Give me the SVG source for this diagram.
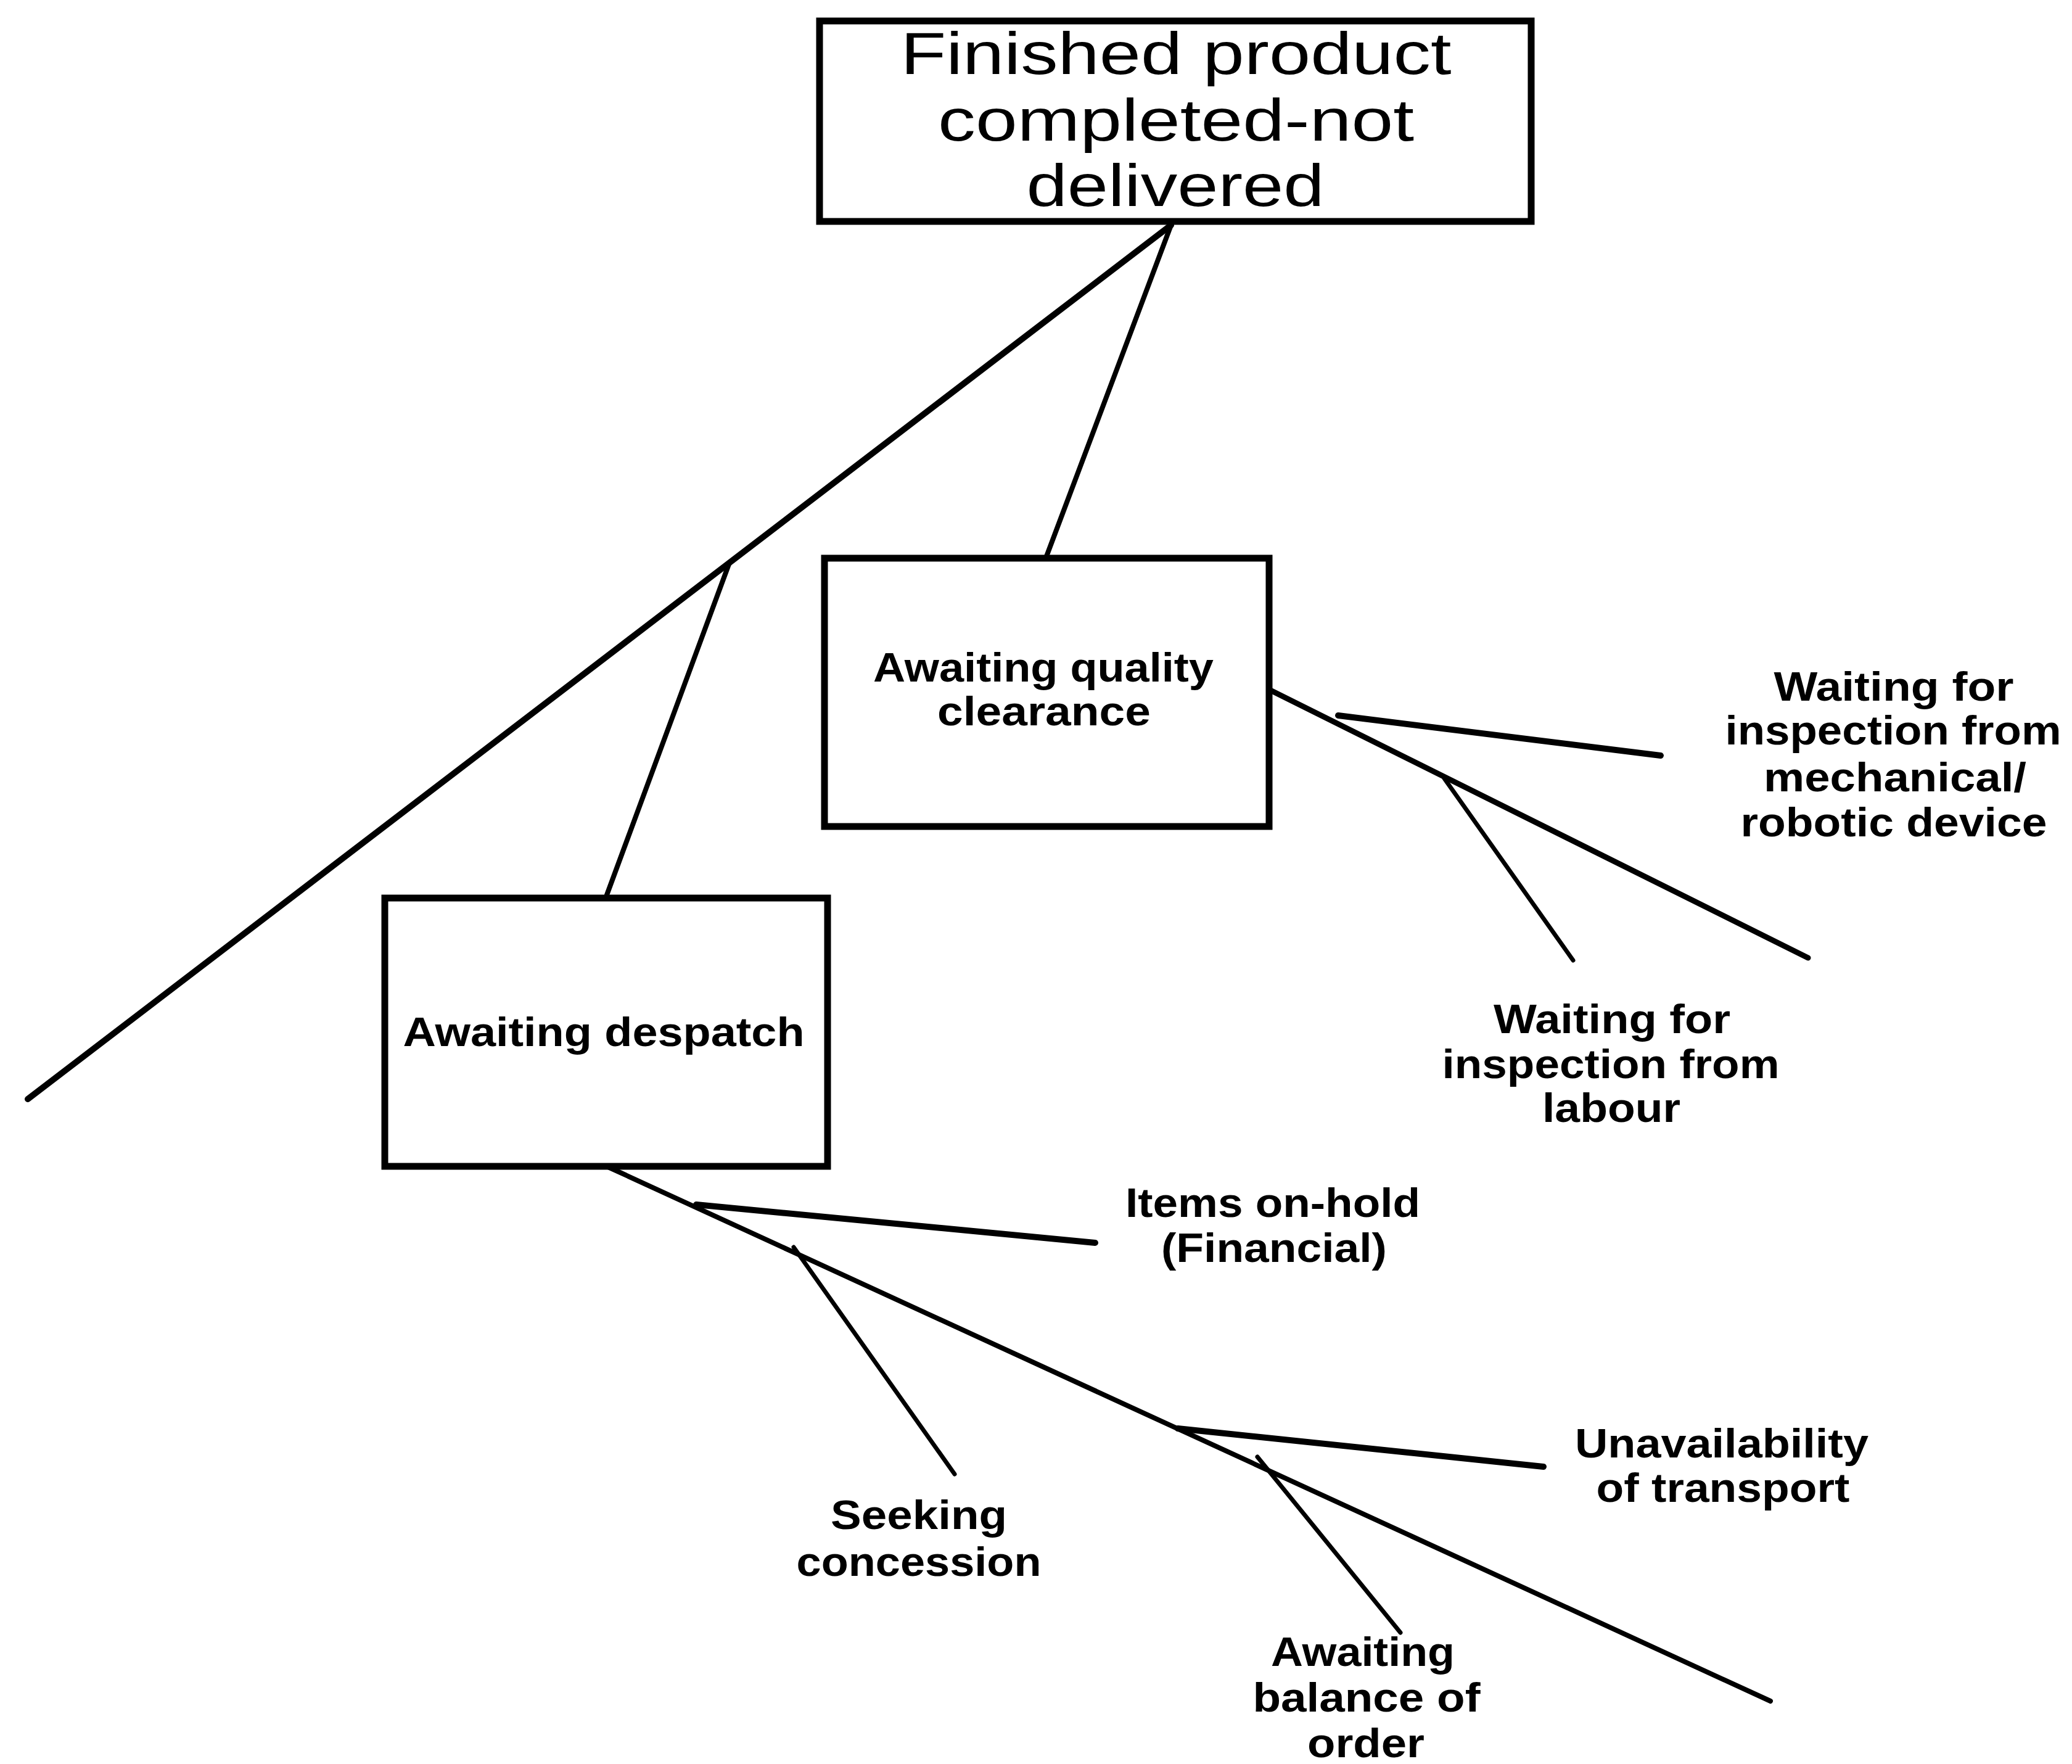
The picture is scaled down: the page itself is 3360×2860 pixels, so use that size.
<svg xmlns="http://www.w3.org/2000/svg" width="3360" height="2860" viewBox="0 0 3360 2860">
<style>
.box{fill:#fff;stroke:#000;stroke-width:11}
.ln{stroke:#000;fill:none;stroke-linecap:round}
.t{font-family:"Liberation Sans",Arial,Helvetica,sans-serif;font-size:66px;font-weight:bold;text-anchor:middle;fill:#000}
.tt{font-size:96px;font-weight:normal}
</style>
<rect width="3360" height="2860" fill="#fff"/>
<g id="connectors">
<line class="ln" x1="1899" y1="365" x2="45" y2="1782" stroke-width="10"/>
<line class="ln" x1="1899" y1="365" x2="1697" y2="902" stroke-width="8"/>
<line class="ln" x1="1183" y1="912" x2="984" y2="1451" stroke-width="8"/>
<line class="ln" x1="2058" y1="1118" x2="2932" y2="1553" stroke-width="9"/>
<line class="ln" x1="2170" y1="1160" x2="2693" y2="1225" stroke-width="10"/>
<line class="ln" x1="2342" y1="1262" x2="2551" y2="1557" stroke-width="7"/>
<line class="ln" x1="986" y1="1892" x2="2871" y2="2758" stroke-width="8"/>
<line class="ln" x1="1129" y1="1953" x2="1776" y2="2015" stroke-width="10"/>
<line class="ln" x1="1287" y1="2022" x2="1548" y2="2390" stroke-width="7"/>
<line class="ln" x1="1910" y1="2316" x2="2503" y2="2378" stroke-width="10"/>
<line class="ln" x1="2039" y1="2362" x2="2271" y2="2647" stroke-width="7"/>
</g>
<g id="n-finished">
<rect class="box" x="1329" y="34" width="1154" height="325"/>
<text class="t tt" x="1907" y="120" textLength="893" lengthAdjust="spacingAndGlyphs">Finished product</text>
<text class="t tt" x="1907" y="228" textLength="772" lengthAdjust="spacingAndGlyphs">completed-not</text>
<text class="t tt" x="1906" y="334" textLength="483" lengthAdjust="spacingAndGlyphs">delivered</text>
</g>
<g id="n-quality">
<rect class="box" x="1337" y="905" width="721" height="435"/>
<text class="t" x="1692" y="1105" textLength="552" lengthAdjust="spacingAndGlyphs">Awaiting quality</text>
<text class="t" x="1693" y="1176" textLength="346" lengthAdjust="spacingAndGlyphs">clearance</text>
</g>
<g id="n-despatch">
<rect class="box" x="624" y="1456" width="718" height="435"/>
<text class="t" x="979" y="1696" textLength="651" lengthAdjust="spacingAndGlyphs">Awaiting despatch</text>
</g>
<g id="n-mechanical">
<text class="t" x="3071" y="1136" textLength="389" lengthAdjust="spacingAndGlyphs">Waiting for</text>
<text class="t" x="3070" y="1207" textLength="545" lengthAdjust="spacingAndGlyphs">inspection from</text>
<text class="t" x="3073" y="1283" textLength="426" lengthAdjust="spacingAndGlyphs">mechanical/</text>
<text class="t" x="3071" y="1356" textLength="497" lengthAdjust="spacingAndGlyphs">robotic device</text>
</g>
<g id="n-labour">
<text class="t" x="2614" y="1675" textLength="384" lengthAdjust="spacingAndGlyphs">Waiting for</text>
<text class="t" x="2612" y="1748" textLength="547" lengthAdjust="spacingAndGlyphs">inspection from</text>
<text class="t" x="2613" y="1819" textLength="224" lengthAdjust="spacingAndGlyphs">labour</text>
</g>
<g id="n-onhold">
<text class="t" x="2064" y="1973" textLength="478" lengthAdjust="spacingAndGlyphs">Items on-hold</text>
<text class="t" x="2066" y="2046" textLength="366" lengthAdjust="spacingAndGlyphs">(Financial)</text>
</g>
<g id="n-concession">
<text class="t" x="1490" y="2479" textLength="286" lengthAdjust="spacingAndGlyphs">Seeking</text>
<text class="t" x="1490" y="2555" textLength="397" lengthAdjust="spacingAndGlyphs">concession</text>
</g>
<g id="n-transport">
<text class="t" x="2792" y="2363" textLength="476" lengthAdjust="spacingAndGlyphs">Unavailability</text>
<text class="t" x="2794" y="2435" textLength="411" lengthAdjust="spacingAndGlyphs">of transport</text>
</g>
<g id="n-balance">
<text class="t" x="2210" y="2701" textLength="298" lengthAdjust="spacingAndGlyphs">Awaiting</text>
<text class="t" x="2216" y="2775" textLength="369" lengthAdjust="spacingAndGlyphs">balance of</text>
<text class="t" x="2215" y="2849" textLength="190" lengthAdjust="spacingAndGlyphs">order</text>
</g>
</svg>
